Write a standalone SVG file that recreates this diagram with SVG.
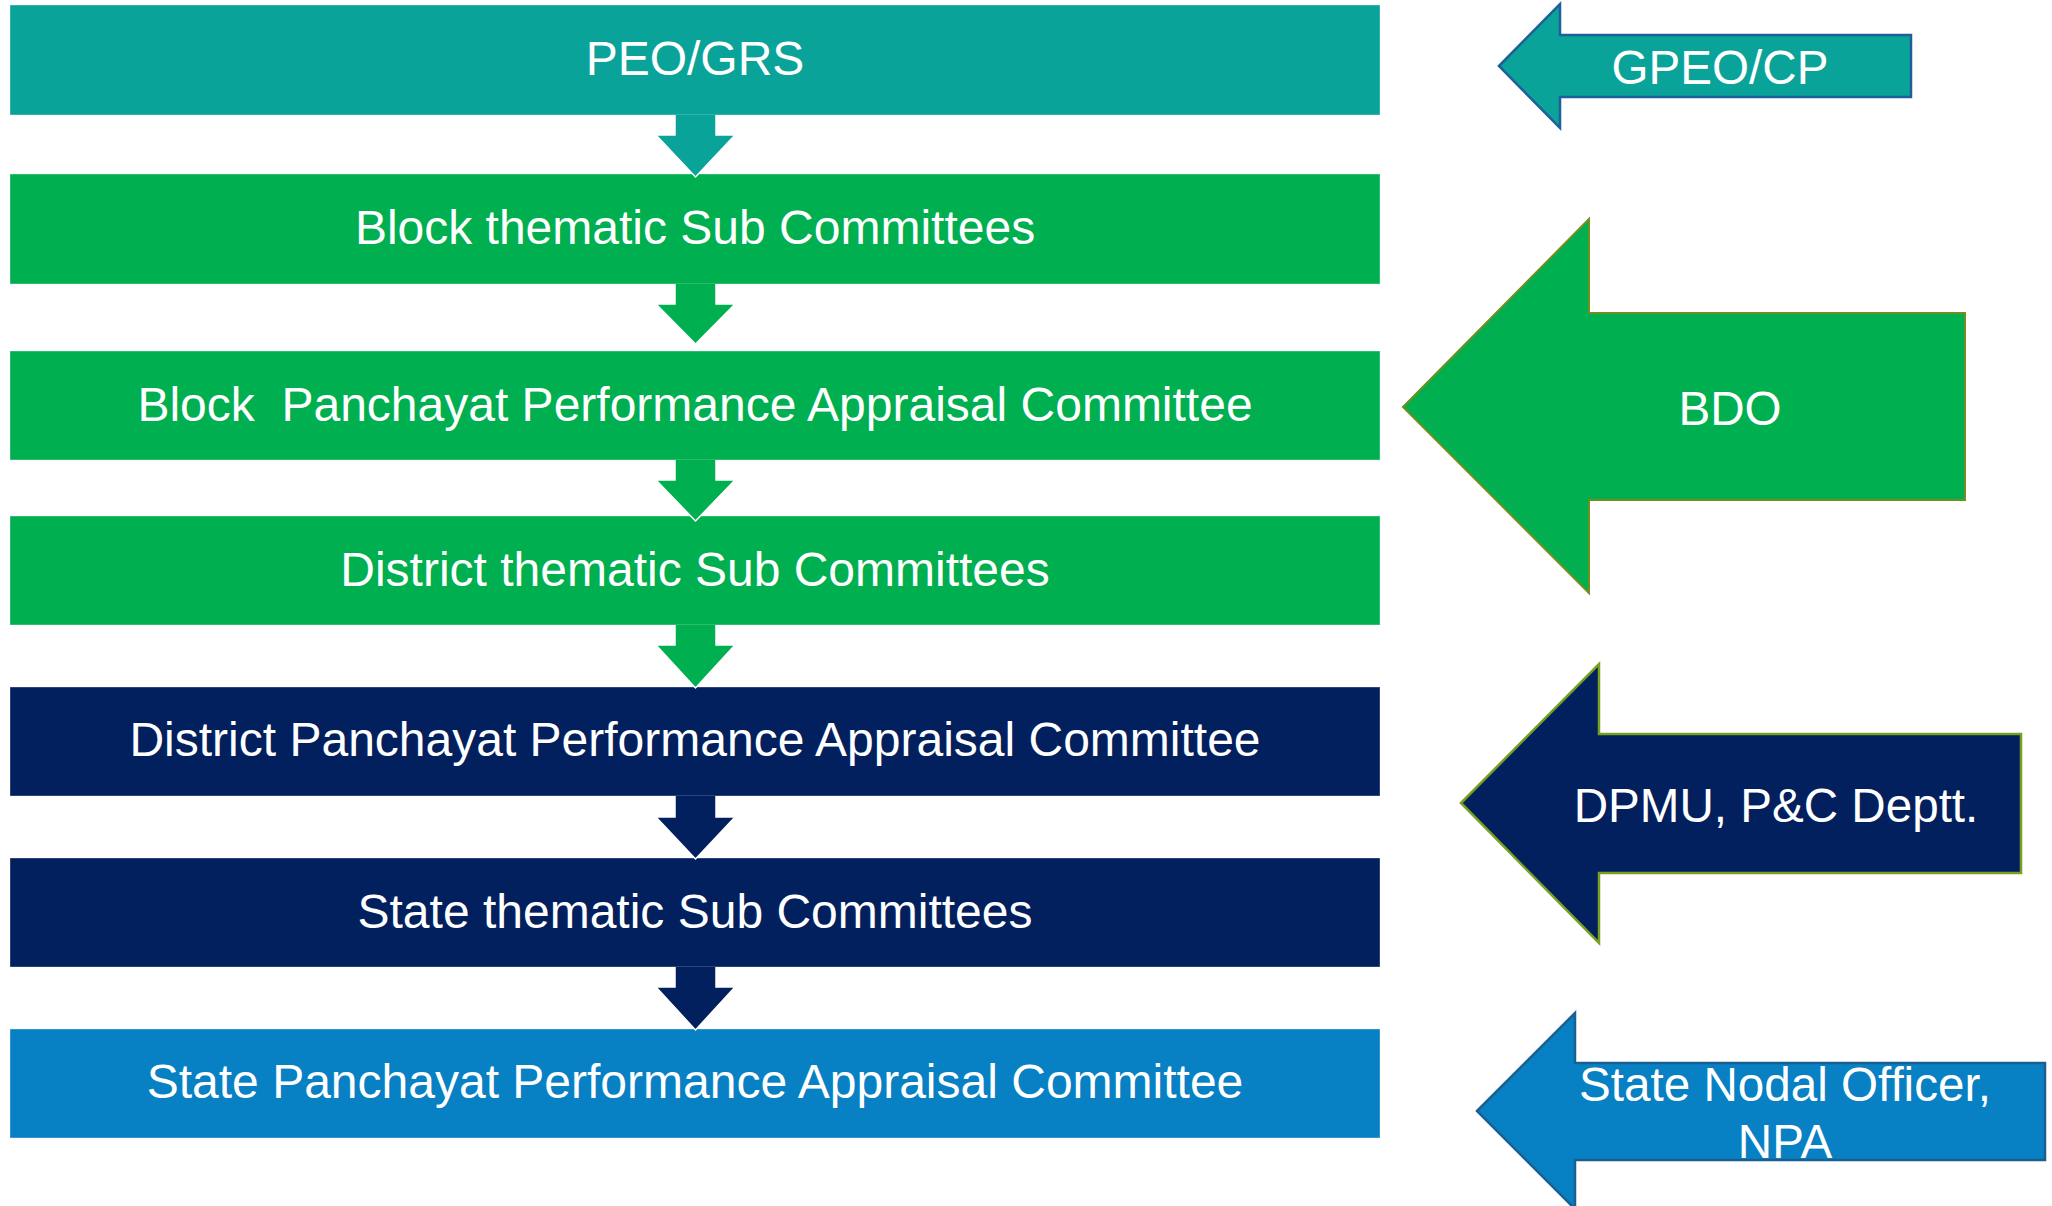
<svg xmlns="http://www.w3.org/2000/svg" width="2052" height="1206" viewBox="0 0 2052 1206">
  <style>
    .box { stroke: #ffffff; stroke-opacity: 0.35; stroke-width: 1; }
    .t { font-family: "Liberation Sans", Arial, sans-serif; font-size: 48px; fill: #ffffff; text-anchor: middle; white-space: pre; }
    .ts { font-family: "Liberation Sans", Arial, sans-serif; font-size: 47.6px; fill: #ffffff; text-anchor: middle; }
    .conn { stroke: #ffffff; stroke-width: 1.5; stroke-linejoin: miter; }
    .teal { fill: #09A39A; }
    .green { fill: #00AF50; }
    .navy { fill: #021F5E; }
    .blue { fill: #0780C4; }
  </style>
  <rect x="0" y="0" width="2052" height="1206" fill="#ffffff"/>

  <g id="peo-grs">
    <rect class="box teal" x="10" y="5" width="1370" height="110"/>
    <text class="t" x="695" y="75">PEO/GRS</text>
  </g>
  <g id="block-thematic">
    <rect class="box green" x="10" y="174" width="1370" height="110"/>
    <text class="t" x="695" y="244">Block thematic Sub Committees</text>
  </g>
  <g id="block-ppac">
    <rect class="box green" x="10" y="351" width="1370" height="109"/>
    <text class="t" x="695" y="421" xml:space="preserve">Block  Panchayat Performance Appraisal Committee</text>
  </g>
  <g id="district-thematic">
    <rect class="box green" x="10" y="516" width="1370" height="109"/>
    <text class="t" x="695" y="586">District thematic Sub Committees</text>
  </g>
  <g id="district-ppac">
    <rect class="box navy" x="10" y="687" width="1370" height="109"/>
    <text class="t" x="695" y="756">District Panchayat Performance Appraisal Committee</text>
  </g>
  <g id="state-thematic">
    <rect class="box navy" x="10" y="858" width="1370" height="109"/>
    <text class="t" x="695" y="928">State thematic Sub Committees</text>
  </g>
  <g id="state-ppac">
    <rect class="box blue" x="10" y="1029" width="1370" height="109"/>
    <text class="t" x="695" y="1098">State Panchayat Performance Appraisal Committee</text>
  </g>

  <g id="connectors">
    <path class="conn teal" d="M716,115 V135 H735 L695.5,177 L656,135 H675 V115"/>
    <path class="conn green" d="M716,284 V304 H735 L695.5,344 L656,304 H675 V284"/>
    <path class="conn green" d="M716,460 V480 H735 L695.5,521 L656,480 H675 V460"/>
    <path class="conn green" d="M716,625 V645 H735 L695.5,688 L656,645 H675 V625"/>
    <path class="conn navy" d="M716,796 V817 H735 L695.5,859 L656,817 H675 V796"/>
    <path class="conn navy" d="M716,967 V987 H735 L695.5,1030 L656,987 H675 V967"/>
  </g>

  <g id="gpeo-cp">
    <path class="teal" stroke="#1F5F99" stroke-width="2.5" d="M1499,66 L1560,4 L1560,35 L1911,35 L1911,97 L1560,97 L1560,128 Z"/>
    <text class="ts" x="1720" y="84">GPEO/CP</text>
  </g>
  <g id="bdo">
    <path class="green" stroke="#6F8F1F" stroke-width="2" d="M1403,407 L1589,219 L1589,313 L1965,313 L1965,500 L1589,500 L1589,593 Z"/>
    <text class="ts" x="1730" y="425">BDO</text>
  </g>
  <g id="dpmu">
    <path class="navy" stroke="#77A020" stroke-width="2.5" d="M1461,803 L1599,664 L1599,734 L2021,734 L2021,873 L1599,873 L1599,943 Z"/>
    <text class="ts" x="1776" y="822">DPMU, P&amp;C Deptt.</text>
  </g>
  <g id="state-nodal">
    <path class="blue" stroke="#1A5F90" stroke-width="2.5" d="M1477,1111 L1575,1013 L1575,1063 L2045,1063 L2045,1160 L1575,1160 L1575,1209 Z"/>
    <text class="ts" x="1785" y="1101">State Nodal Officer,</text>
    <text class="ts" x="1785" y="1158">NPA</text>
  </g>
</svg>
